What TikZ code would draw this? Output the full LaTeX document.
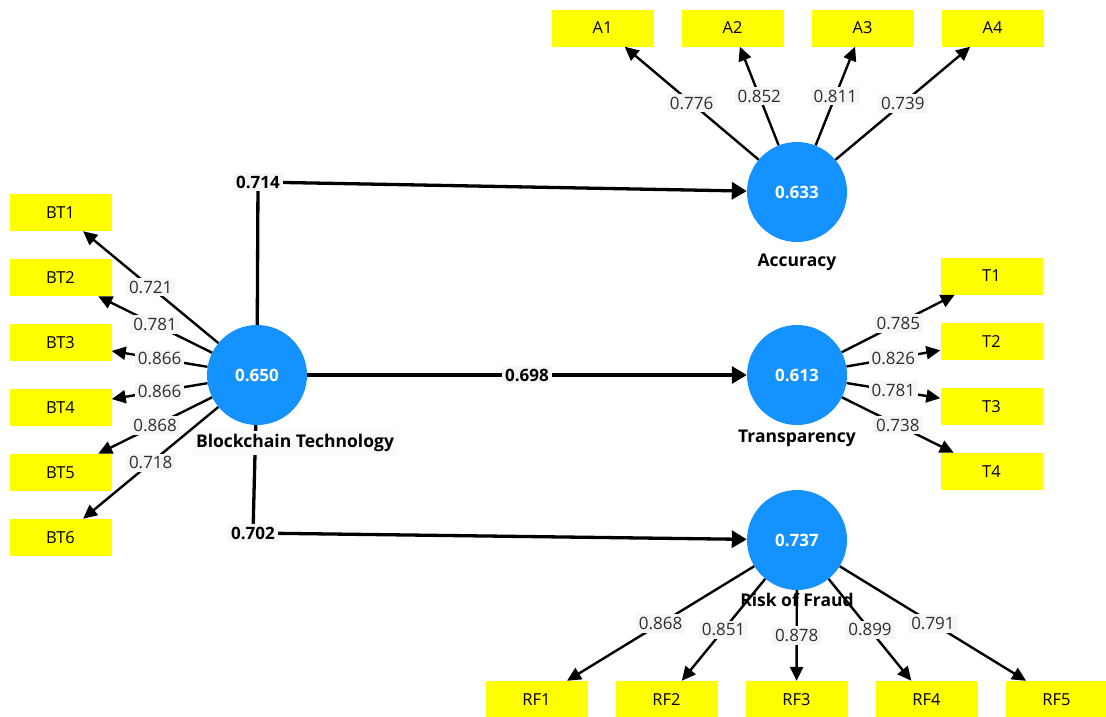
\documentclass[tikz,border=0pt]{standalone}
\usepackage{fontspec}
\setmainfont{Open Sans}
\usetikzlibrary{arrows.meta}
\definecolor{lvblue}{RGB}{20,146,255}
\definecolor{mvyellow}{RGB}{255,255,0}
\definecolor{lblbg}{RGB}{246,246,246}
\begin{document}
\begin{tikzpicture}[x=1pt,y=-1pt,
 indicator/.style={rectangle, fill=mvyellow, minimum width=102pt, minimum height=37pt, inner sep=0pt, font=\fontsize{16.5}{19}\selectfont},
 latent/.style={circle, fill=lvblue, minimum size=100pt, inner sep=0pt, text=white, font=\bfseries\fontsize{17}{20}\selectfont},
 latname/.style={inner sep=3pt, font=\bfseries\fontsize{17.5}{20}\selectfont},
 loading/.style={-{Triangle[length=14pt,width=13pt]}, line width=2.4pt},
 strpath/.style={line width=3.3pt},
 patharrow/.style={-{Triangle[length=15pt,width=17pt]}, line width=3.3pt},
 lbl/.style={fill=lblbg, inner sep=3pt, text=black!82, font=\fontsize{17}{20}\selectfont},
 plbl/.style={fill=lblbg, inner sep=3pt, font=\bfseries\fontsize{17}{20}\selectfont},
]
\useasboundingbox (0,0) rectangle (1106,716);

% latent variables
\node[latent] (bt)  at (257,375) {0.650};
\node[latent] (acc) at (797,192) {0.633};
\node[latent] (tra) at (797,375) {0.613};
\node[latent] (rf)  at (797,540) {0.737};

% indicators
\foreach \i in {1,...,6} {
  \node[indicator] (BT\i) at (60.5,{212.5+65*(\i-1)}) {BT\i};
}
\foreach \i in {1,...,4} {
  \node[indicator] (A\i) at ({602.5+130*(\i-1)},28) {A\i};
}
\node[indicator] (T1) at (991.5,276) {T1};
\node[indicator] (T2) at (991.5,341.5) {T2};
\node[indicator] (T3) at (991.5,406.5) {T3};
\node[indicator] (T4) at (991.5,471.5) {T4};
\foreach \i in {1,...,5} {
  \node[indicator] (RF\i) at ({536.5+130*(\i-1)},699.5) {RF\i};
}

% name drawn under lines
\node[latname] (rfname) at (797,600) {Risk of Fraud};

% loadings: Blockchain Technology
\draw[loading] (bt) -- node[lbl, midway] (l1) {0.721} (BT1);
\draw[loading] (bt) -- node[lbl, midway] (l2) {0.781} (BT2);
\draw[loading] (bt) -- node[lbl, midway] (l3) {0.866} (BT3);
\draw[loading] (bt) -- node[lbl, midway] (l4) {0.866} (BT4);
\draw[loading] (bt) -- node[lbl, midway] (l5) {0.868} (BT5);
\draw[loading] (bt) -- node[lbl, midway] (l6) {0.718} (BT6);

% loadings: Accuracy
\draw[loading] (acc) -- node[lbl, midway] (la1) {0.776} (A1);
\draw[loading] (acc) -- node[lbl, midway] (la2) {0.852} (A2);
\draw[loading] (acc) -- node[lbl, midway] (la3) {0.811} (A3);
\draw[loading] (acc) -- node[lbl, midway] (la4) {0.739} (A4);

% loadings: Transparency
\draw[loading] (tra) -- node[lbl, midway] (lt1) {0.785} (T1);
\draw[loading] (tra) -- node[lbl, midway] (lt2) {0.826} (T2);
\draw[loading] (tra) -- node[lbl, midway] (lt3) {0.781} (T3);
\draw[loading] (tra) -- node[lbl, midway] (lt4) {0.738} (T4);

% loadings: Risk of Fraud
\draw[loading] (rf) -- node[lbl, midway] (lr1) {0.868} (RF1);
\draw[loading] (rf) -- node[lbl, midway] (lr2) {0.851} (RF2);
\draw[loading] (rf) -- node[lbl, midway] (lr3) {0.878} (RF3);
\draw[loading] (rf) -- node[lbl, midway] (lr4) {0.899} (RF4);
\draw[loading] (rf) -- node[lbl, midway] (lr5) {0.791} (RF5);

% structural paths
\coordinate (b1) at (258,182);
\coordinate (b2) at (253,533);
\draw[strpath] (bt) -- (b1);
\draw[patharrow] (b1) -- (acc);
\draw[patharrow] (bt) -- node[plbl, midway] (p2) {0.698} (tra);
\draw[strpath] (bt) -- (b2);
\draw[patharrow] (b2) -- (rf);
\node[plbl] (p1) at (b1) {0.714};
\node[plbl] (p3) at (b2) {0.702};

% construct names
\node[latname, fill=lblbg!50!white] (btname) at (295,443) {Blockchain Technology};
\node[latname] (accname) at (797,262) {Accuracy};
\node[latname] (traname) at (797,438) {Transparency};
\end{tikzpicture}
\end{document}
